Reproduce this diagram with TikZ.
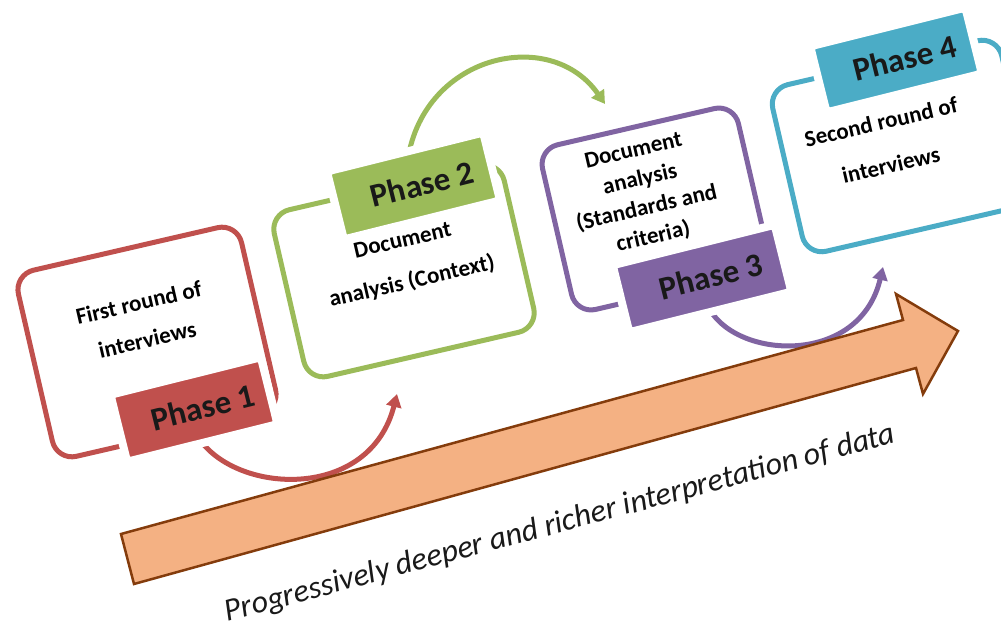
\documentclass[tikz,border=0pt]{standalone}
\usepackage{fontspec}
\setmainfont{Carlito}
\usepackage{xcolor}
\usepackage{tikz}
\usetikzlibrary{arrows.meta}

\definecolor{phaseRed}{HTML}{C0504D}
\definecolor{phaseGreen}{HTML}{9BBB59}
\definecolor{phasePurple}{HTML}{8064A2}
\definecolor{phaseTeal}{HTML}{4BACC6}
\definecolor{arrowFill}{HTML}{F4B183}
\definecolor{arrowLine}{HTML}{843C0C}

\tikzset{
  phasebox/.style={draw=#1, line width=5pt, rounded corners=20pt, fill=white, inner sep=0pt, rotate=13},
  phasetab/.style={fill=#1, draw=white, line width=8pt, rounded corners=4pt, inner sep=0pt, rotate=14,
    text=black!90, font=\bfseries\fontsize{33}{38}\selectfont},
  boxtext/.style={align=center, inner sep=0pt, rotate=13, text=black,
    font=\bfseries\fontsize{23}{#1}\selectfont},
  turnarrow/.style={draw=#1, line width=5pt, -{Triangle[length=13pt,width=15pt]}},
}
\newcommand{\phaselabel}[1]{\hspace*{18pt}Phase #1}

\begin{document}
\begin{tikzpicture}[x=1pt,y=-1pt]
\useasboundingbox (0,0) rectangle (1001,628);
\clip (0,0) rectangle (1001,628);

%Curved Arrows between phases
\coordinate (r1) at (200,440);
\coordinate (r2) at (397,394);
\coordinate (g1) at (407,165);
\coordinate (g2) at (605,104);
\coordinate (p1) at (710,310);
\coordinate (p2) at (883,267);
\draw [turnarrow=phaseRed]    (r1) .. controls (240,495) and (370,500) .. (r2) ;
\draw [turnarrow=phaseGreen]  (g1) .. controls (420,55) and (550,25) .. (g2) ;
\draw [turnarrow=phasePurple] (p1) .. controls (740,360) and (860,365) .. (p2) ;

%Shape: Right Arrow
\draw [fill=arrowFill, draw=arrowLine, line width=2.5pt, line join=miter]
  (121,534) -- (903,320) -- (896,294) -- (958,331) -- (923,394) -- (916,368) -- (134,584) -- cycle ;

%Shape: Rounded Rect (phase boxes)
\node [phasebox=phaseRed, minimum width=229pt, minimum height=191pt] (box1) at (147,342) {};
\node [phasebox=phaseGreen, minimum width=236pt, minimum height=171pt] (box2) at (404,271) {};
\node [phasebox=phasePurple, minimum width=201pt, minimum height=169pt] (box3) at (655,209) {};
\node [phasebox=phaseTeal, minimum width=235pt, minimum height=171pt] (box4) at (902,146) {};

% Text Node
\node [boxtext=38] (txt1) at (143,321) {First round of\\interviews};
% Text Node
\node [boxtext=42] (txt2) at (407.5,262) {Document\\analysis (Context)};
% Text Node
\node [boxtext=29.5] (txt3) at (643.5,194.5) {Document\\analysis\\(Standards and\\criteria)};
% Text Node
\node [boxtext=44] (txt4) at (886,143.5) {Second round of\\interviews};

%Shape: Phase tabs
\node [phasetab=phaseRed, minimum width=155pt, minimum height=69pt] (tab1) at (194,409.5) {\phaselabel{1}};
\node [phasetab=phaseGreen, minimum width=161pt, minimum height=70pt] (tab2) at (413.5,186) {\phaselabel{2}};
\node [phasetab=phasePurple, minimum width=167pt, minimum height=69pt] (tab3) at (702,278.5) {\phaselabel{3}};
\node [phasetab=phaseTeal, minimum width=160pt, minimum height=68pt] (tab4) at (896,60) {\phaselabel{4}};

% Text Node
\node [rotate=15, inner sep=0pt, text=black!90, font=\itshape\fontsize{32}{36}\selectfont] (trend) at (560,524)
  {Progressively deeper and richer interpretation of data};
\end{tikzpicture}
\end{document}
